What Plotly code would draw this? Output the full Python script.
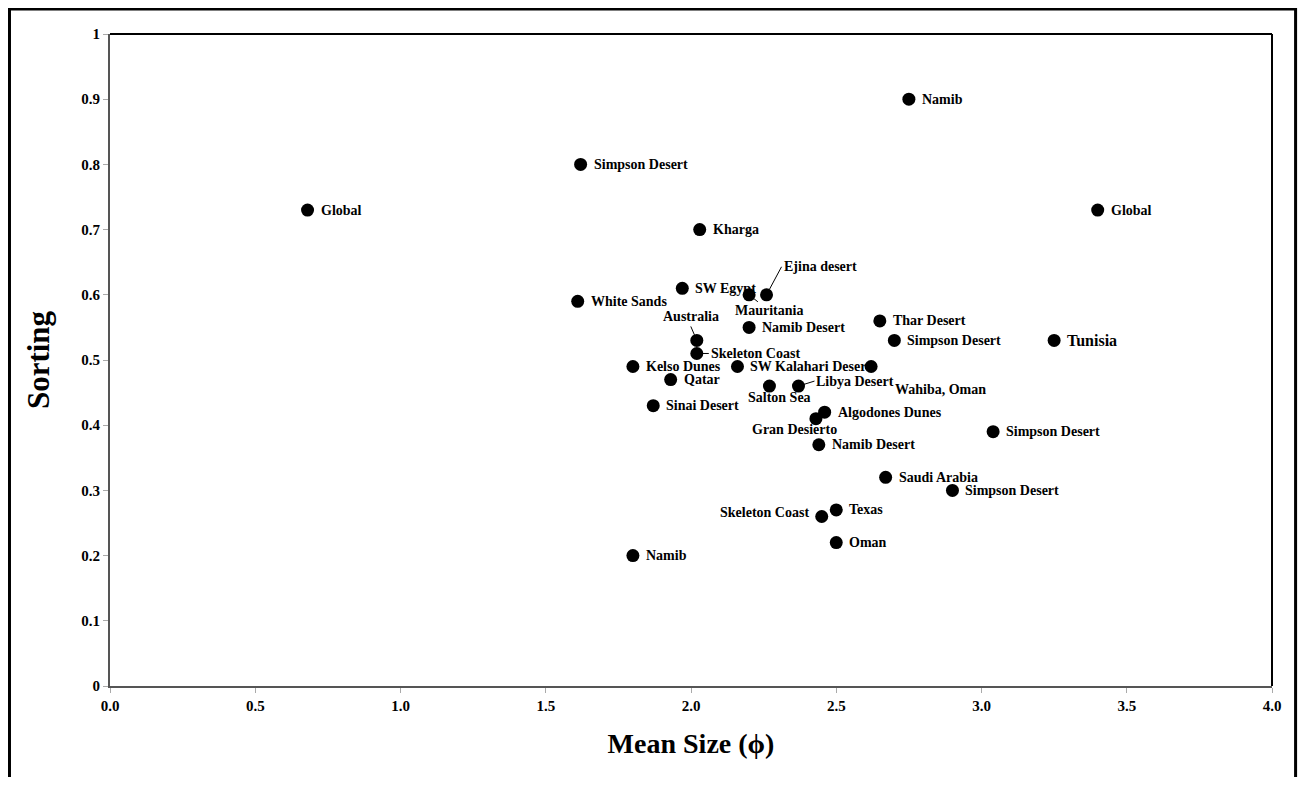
import plotly.graph_objects as go

# ---- data ----
labels = [
    "Global", "Simpson Desert", "Namib", "Kharga", "Global",
    "Ejina desert", "SW Egypt", "Mauritania", "White Sands", "Namib Desert",
    "Thar Desert", "Australia", "Simpson Desert", "Tunisia", "Skeleton Coast",
    "Kelso Dunes", "SW Kalahari Desert", "Wahiba, Oman", "Qatar", "Salton Sea",
    "Libya Desert", "Sinai Desert", "Algodones Dunes", "Gran Desierto", "Namib Desert",
    "Simpson Desert", "Saudi Arabia", "Simpson Desert", "Texas", "Skeleton Coast",
    "Oman", "Namib",
]
mean_size = [
    0.68, 1.62, 2.75, 2.03, 3.40,
    2.26, 1.97, 2.20, 1.61, 2.20,
    2.65, 2.02, 2.70, 3.25, 2.02,
    1.80, 2.16, 2.62, 1.93, 2.27,
    2.37, 1.87, 2.46, 2.43, 2.44,
    3.04, 2.67, 2.90, 2.50, 2.45,
    2.50, 1.80,
]
sorting = [
    0.73, 0.80, 0.90, 0.70, 0.73,
    0.60, 0.61, 0.60, 0.59, 0.55,
    0.56, 0.53, 0.53, 0.53, 0.51,
    0.49, 0.49, 0.49, 0.47, 0.46,
    0.46, 0.43, 0.42, 0.41, 0.37,
    0.39, 0.32, 0.30, 0.27, 0.26,
    0.22, 0.20,
]
x_ticks = [0.0, 0.5, 1.0, 1.5, 2.0, 2.5, 3.0, 3.5, 4.0]
y_ticks = [0, 0.1, 0.2, 0.3, 0.4, 0.5, 0.6, 0.7, 0.8, 0.9, 1]

# ---- label placement (pixel offsets; index -> options) ----
FONT = "Liberation Serif, Times New Roman, serif"
special = {
    5: dict(showarrow=True, ax=15, ay=-28, xanchor="left", yanchor="middle"),      # Ejina desert
    7: dict(showarrow=True, ax=20, ay=16, xanchor="center", yanchor="middle"),     # Mauritania
    11: dict(showarrow=True, ax=-6, ay=-14, xanchor="center", yanchor="bottom"),   # Australia
    14: dict(showarrow=True, ax=12, ay=0, xanchor="left", yanchor="middle"),       # Skeleton Coast
    17: dict(showarrow=False, xanchor="left", yanchor="middle", xshift=22, yshift=-23),  # Wahiba
    19: dict(showarrow=False, xanchor="center", yanchor="middle", xshift=10, yshift=-11),  # Salton Sea
    20: dict(showarrow=True, ax=16, ay=-5, xanchor="left", yanchor="middle"),      # Libya Desert
    23: dict(showarrow=False, xanchor="center", yanchor="middle", xshift=-21, yshift=-11),  # Gran Desierto
    29: dict(showarrow=False, xanchor="right", yanchor="middle", xshift=-11, yshift=4),     # Skeleton Coast low
}

fig = go.Figure()
fig.add_trace(go.Scatter(
    x=mean_size, y=sorting, mode="markers",
    marker=dict(size=13, color="black"),
    text=labels, hoverinfo="text+x+y", showlegend=False,
))

annotations = []
for i, (lab, xv, yv) in enumerate(zip(labels, mean_size, sorting)):
    size = 16 if lab == "Tunisia" else 14
    opts = dict(showarrow=False, xanchor="left", yanchor="middle", xshift=11)
    if i in special:
        opts = dict(special[i])
    if opts.get("showarrow"):
        opts.update(arrowhead=0, arrowwidth=1, arrowcolor="black", standoff=6, axref="pixel", ayref="pixel")
    annotations.append(dict(
        x=xv, y=yv, xref="x", yref="y", text=lab,
        font=dict(family=FONT, size=size, color="black", weight="bold"),
        **opts,
    ))

fig.update_layout(
    width=1290, height=769,
    margin=dict(l=102, r=26, t=26, b=91),
    paper_bgcolor="white", plot_bgcolor="white",
    font=dict(family=FONT, color="black"),
    annotations=annotations,
    xaxis=dict(
        range=[0, 4], tickvals=x_ticks, tickformat=".1f",
        showgrid=False, zeroline=False,
        showline=True, linecolor="#555555", linewidth=2,
        ticks="outside", ticklen=5, tickcolor="#aaaaaa",
        tickfont=dict(family=FONT, size=15, color="black", weight="bold"),
        title=dict(text="Mean Size (ϕ)", standoff=20,
                   font=dict(family=FONT, size=28, color="black", weight="bold")),
    ),
    yaxis=dict(
        range=[0, 1], tickvals=y_ticks,
        showgrid=False, zeroline=False,
        showline=True, linecolor="#555555", linewidth=2,
        ticks="outside", ticklen=5, tickcolor="#aaaaaa",
        tickfont=dict(family=FONT, size=15, color="black", weight="bold"),
        title=dict(text="Sorting", standoff=22,
                   font=dict(family=FONT, size=31, color="black", weight="bold")),
    ),
    shapes=[
        # top and right plot-area border
        dict(type="line", xref="paper", yref="paper", x0=0, x1=1, y0=1, y1=1,
             line=dict(color="black", width=2)),
        dict(type="line", xref="paper", yref="paper", x0=1, x1=1, y0=0, y1=1,
             line=dict(color="black", width=2)),
        # outer frame
        dict(type="rect", xref="paper", yref="paper",
             x0=-0.0865, x1=1.0203, y0=-0.2, y1=1.0383,
             line=dict(color="black", width=3), fillcolor="rgba(0,0,0,0)"),
    ],
)

fig.write_html("out.html")
